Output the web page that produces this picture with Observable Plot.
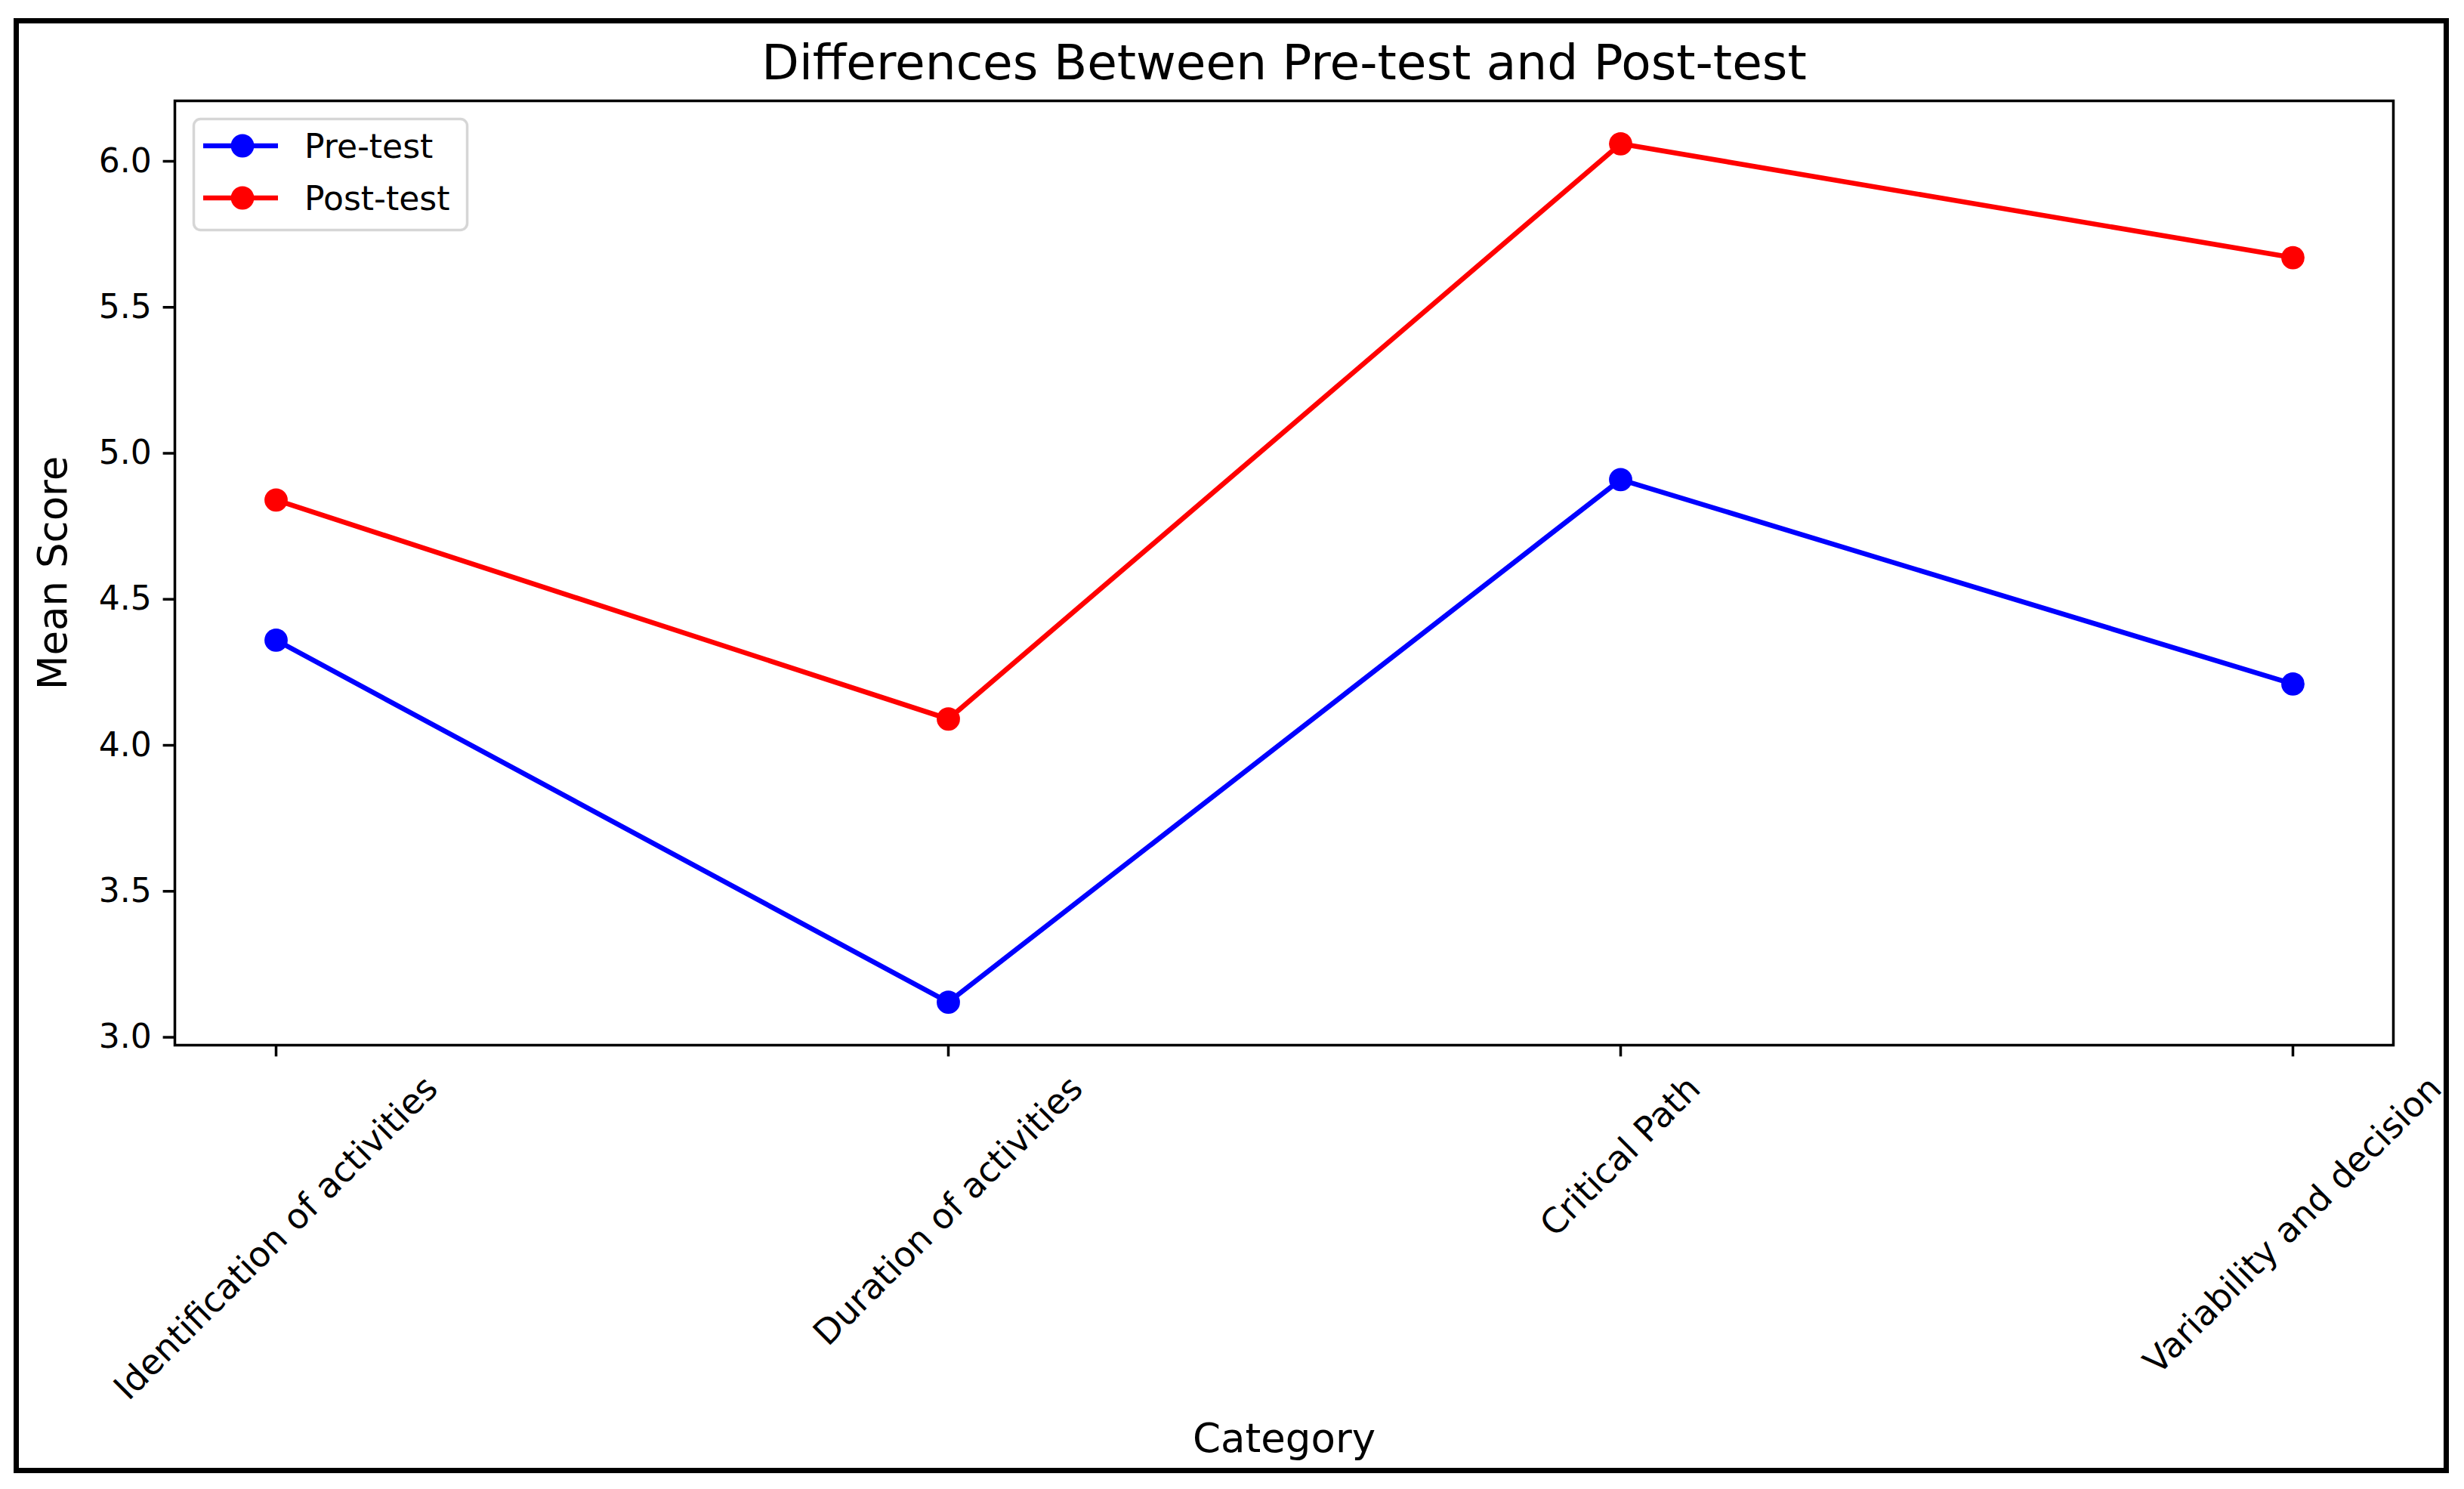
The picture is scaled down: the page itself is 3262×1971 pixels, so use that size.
<!DOCTYPE html>
<html>
<head>
<meta charset="utf-8">
<script src="https://cdn.jsdelivr.net/npm/d3@7"></script>
<script src="https://cdn.jsdelivr.net/npm/@observablehq/plot@0.6"></script>
<style>
  html, body { margin: 0; padding: 0; background: #ffffff; }
  #wrap { position: relative; width: 3262px; height: 1971px; background: #ffffff; overflow: hidden; }
  #border { position: absolute; left: 18px; top: 24px; width: 3224px; height: 1926px; border: 7px solid #000; box-sizing: border-box; pointer-events: none; }
  #chart { position: absolute; left: 0; top: 0; }
  #legend { position: absolute; left: 0; top: 0; pointer-events: none; }
</style>
</head>
<body>
<div id="wrap">
  <div id="chart"></div>
  <svg id="legend" width="700" height="400"></svg>
  <div id="border"></div>
</div>
<script>
// ---- data ----
const categories = ["Identification of activities", "Duration of activities", "Critical Path", "Variability and decision"];
const preTest = [4.36, 3.12, 4.91, 4.21];
const postTest = [4.84, 4.09, 6.06, 5.67];
const seriesNames = ["Pre-test", "Post-test"];
const seriesColors = ["#0000ff", "#ff0000"];
const yTicks = [3.0, 3.5, 4.0, 4.5, 5.0, 5.5, 6.0];
const titleText = "Differences Between Pre-test and Post-test";
const xLabel = "Category";
const yLabel = "Mean Score";

// ---- table ----
const rows = [];
categories.forEach((c, i) => rows.push({category: c, series: seriesNames[0], value: preTest[i]}));
categories.forEach((c, i) => rows.push({category: c, series: seriesNames[1], value: postTest[i]}));

const allVals = preTest.concat(postTest);
const lo = d3.min(allVals), hi = d3.max(allVals);
const pad = 0.05 * (hi - lo);

const FONT = "DejaVu Sans";
const tickFont = 44;
const xTickFont = 46;
const pt = 4.4;

// measure label widths for matplotlib-like centered rotated labels
const ctx = document.createElement("canvas").getContext("2d");
ctx.font = `${xTickFont}px '${FONT}'`;
const textH = xTickFont * 1.164;

const xLabelMarks = categories.map(c => {
  const w = ctx.measureText(c).width;
  const off = 3.5 * pt + 3.5 * pt + (w + textH) / (2 * Math.SQRT2);
  return Plot.text([c], {
    x: d => d,
    frameAnchor: "bottom",
    dy: off,
    rotate: -45,
    textAnchor: "middle",
    lineAnchor: "middle",
    fontSize: xTickFont,
    fill: "#000"
  });
});

const plot = Plot.plot({
  width: 3262,
  height: 1971,
  marginLeft: 231,
  marginRight: 94,
  marginTop: 133,
  marginBottom: 588,
  style: {fontFamily: FONT, fontSize: tickFont + "px", color: "#000", background: "transparent"},
  x: {type: "point", domain: categories, padding: 0.15, label: null},
  y: {domain: [lo - pad, hi + pad], label: null},
  color: {domain: seriesNames, range: seriesColors},
  marks: [
    Plot.axisY({ticks: yTicks, tickFormat: d3.format(".1f"), tickSize: 3.5 * pt, tickPadding: 3.5 * pt, strokeWidth: 0.8 * pt, fontSize: tickFont, label: null, stroke: "#000", fill: "#000"}),
    Plot.axisX({tickSize: 3.5 * pt, tickFormat: () => "", strokeWidth: 0.8 * pt, label: null, stroke: "#000"}),
    ...xLabelMarks,
    Plot.line(rows, {x: "category", y: "value", z: "series", stroke: "series", strokeWidth: 1.5 * pt, strokeLinejoin: "round"}),
    Plot.dot(rows, {x: "category", y: "value", fill: "series", r: 15.4, stroke: null}),
    Plot.frame({stroke: "#000", strokeWidth: 0.8 * pt}),
    Plot.text([titleText], {frameAnchor: "top", dy: -49, fontSize: 64.5, textAnchor: "middle", lineAnchor: "middle", fill: "#000"}),
    Plot.text([xLabel], {frameAnchor: "bottom", dy: 522, fontSize: 53, textAnchor: "middle", lineAnchor: "middle", fill: "#000"}),
    Plot.text([yLabel], {frameAnchor: "left", dx: -160, rotate: -90, fontSize: 53, textAnchor: "middle", lineAnchor: "middle", fill: "#000"})
  ]
});
document.getElementById("chart").appendChild(plot);

// ---- legend (matplotlib-style, upper left inside axes) ----
const lg = d3.select("#legend");
lg.append("rect")
  .attr("x", 256.5).attr("y", 157.5).attr("width", 362).attr("height", 147)
  .attr("rx", 9).attr("ry", 9)
  .attr("fill", "rgba(255,255,255,0.8)")
  .attr("stroke", "#d6d6d6").attr("stroke-width", 3.5);
const rowY = [193, 262];
seriesNames.forEach((name, i) => {
  const y = rowY[i];
  lg.append("line").attr("x1", 269).attr("x2", 368).attr("y1", y).attr("y2", y)
    .attr("stroke", seriesColors[i]).attr("stroke-width", 1.5 * pt);
  lg.append("circle").attr("cx", 321).attr("cy", y).attr("r", 15.4).attr("fill", seriesColors[i]);
  lg.append("text").attr("x", 403).attr("y", y).attr("dy", "0.36em")
    .attr("font-family", FONT).attr("font-size", tickFont).attr("fill", "#000")
    .text(name);
});
</script>
</body>
</html>
